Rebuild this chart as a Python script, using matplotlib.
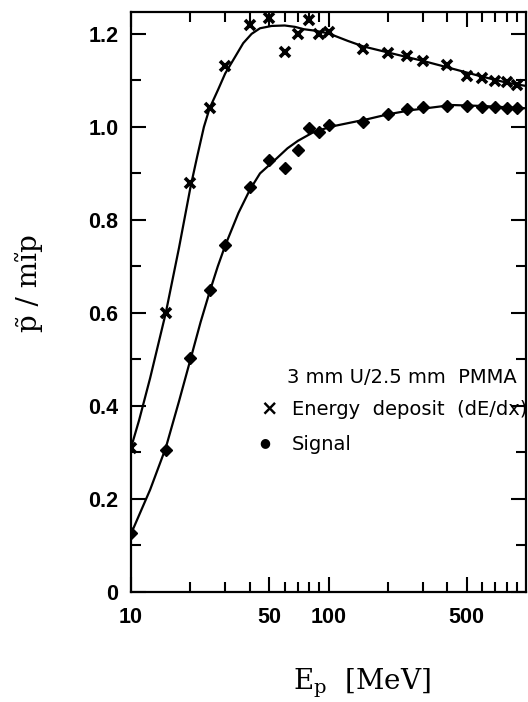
import numpy as np
import matplotlib
matplotlib.use('Agg')
import matplotlib.pyplot as plt
from matplotlib.ticker import FixedLocator, NullFormatter
from matplotlib.font_manager import FontProperties

# proton energy (MeV) of the measured points
energy = [10, 15, 20, 25, 30, 40, 50, 60, 70, 80, 90, 100,
          150, 200, 250, 300, 400, 500, 600, 700, 800, 900]
# energy deposit (dE/dx) relative to mip
dedx = [0.31, 0.60, 0.88, 1.04, 1.13, 1.22, 1.235, 1.16, 1.20, 1.23, 1.20, 1.205,
        1.167, 1.159, 1.153, 1.142, 1.132, 1.110, 1.105, 1.098, 1.096, 1.090]
# measured signal relative to mip
signal = [0.126, 0.305, 0.503, 0.65, 0.746, 0.870, 0.929, 0.911, 0.951, 0.997, 0.990, 1.004,
          1.011, 1.027, 1.038, 1.042, 1.045, 1.044, 1.042, 1.042, 1.041, 1.040]

# hand drawn curves through the points
dedx_curve_x = [10, 11, 12.5, 15, 17.5, 20, 21.6, 23.4, 25, 27.6, 30, 33.6, 37, 40.8, 45,
                51.5, 60, 67.7, 75, 85, 100, 125, 150, 200, 250, 300, 400, 500, 600,
                700, 800, 1000]
dedx_curve_y = [0.31, 0.37, 0.46, 0.60, 0.74, 0.87, 0.935, 1.0, 1.04, 1.08, 1.115, 1.15, 1.18,
                1.20, 1.212, 1.217, 1.218, 1.215, 1.21, 1.207, 1.201, 1.185, 1.173, 1.16,
                1.15, 1.142, 1.128, 1.117, 1.108, 1.101, 1.095, 1.088]
signal_curve_x = [10, 12.5, 15, 17.5, 20, 22.5, 25, 27.5, 30, 35, 40, 45, 53.6, 62, 70, 85,
                  107, 159, 200, 262, 421, 600, 1000]
signal_curve_y = [0.125, 0.22, 0.31, 0.41, 0.50, 0.58, 0.645, 0.70, 0.745, 0.815, 0.865, 0.90,
                  0.929, 0.954, 0.97, 0.99, 1.002, 1.017, 1.027, 1.036, 1.047, 1.045, 1.04]

x_labels = ['10', '50', '100', '500']
x_major = [10, 50, 100, 500]
x_minor = [20, 30, 40, 60, 70, 80, 90, 200, 300, 400, 600, 700, 800, 900]
y_labels = ['0', '0.2', '0.4', '0.6', '0.8', '1.0', '1.2']

plt.rcParams['mathtext.fontset'] = 'dejavuserif'

W, H = 528, 702
fig = plt.figure(figsize=(W / 100, H / 100), dpi=100)
ax = fig.add_axes([131 / W, 1 - 592 / H, 395 / W, 580 / H])

ax.plot(dedx_curve_x, dedx_curve_y, color='black', lw=1.6)
ax.plot(signal_curve_x, signal_curve_y, color='black', lw=1.6)
ax.plot(energy, dedx, ls='', marker='x', ms=7.5, mew=2.6, color='black')
ax.plot(energy, signal, ls='', marker='D', ms=6, color='black')

ax.set_xscale('log')
ax.set_xlim(10, 1000)
ax.set_ylim(0, 1.247)

ax.xaxis.set_major_locator(FixedLocator(x_major))
ax.xaxis.set_minor_locator(FixedLocator(x_minor))
ax.xaxis.set_minor_formatter(NullFormatter())
ax.set_xticklabels(x_labels)
ax.set_yticks([0, 0.2, 0.4, 0.6, 0.8, 1.0, 1.2])
ax.set_yticks([0.1, 0.3, 0.5, 0.7, 0.9, 1.1], minor=True)
ax.set_yticklabels(y_labels)

tick_font = FontProperties(family='Liberation Sans', weight='bold', size=15.5)
for lab in ax.get_xticklabels() + ax.get_yticklabels():
    lab.set_fontproperties(tick_font)

ax.tick_params(which='both', direction='in', top=True, right=True, width=1.5)
ax.tick_params(which='major', length=11)
ax.tick_params(which='minor', length=7)
ax.tick_params(axis='y', which='major', pad=9)
ax.tick_params(axis='x', which='major', pad=11)
for sp in ax.spines.values():
    sp.set_linewidth(1.6)

# axis labels
fig.text(29 / W, 1 - 283 / H, 'p\u0303 / m\u0129p', family='DejaVu Serif', fontsize=20,
         rotation=90, ha='center', va='center')
fig.text(362 / W, 1 - 690 / H, r'$\mathrm{E_p}$  [MeV]', family='DejaVu Serif',
         fontsize=20, ha='center', va='baseline')

# key
key_font = dict(family='DejaVu Sans', fontsize=14, va='baseline')
fig.text(287 / W, 1 - 383 / H, '3 mm U/2.5 mm  PMMA', **key_font)
fig.text(260 / W, 1 - 414 / H, '\u00d7', family='DejaVu Sans', fontsize=15, weight='bold',
         va='baseline')
fig.text(292 / W, 1 - 415 / H, 'Energy  deposit  (dE/dx)', **key_font)
fig.text(259 / W, 1 - 446 / H, '\u25cf', family='DejaVu Sans', fontsize=9, va='baseline')
fig.text(292 / W, 1 - 450 / H, 'Signal', **key_font)

fig.savefig('out.png', dpi=100)
